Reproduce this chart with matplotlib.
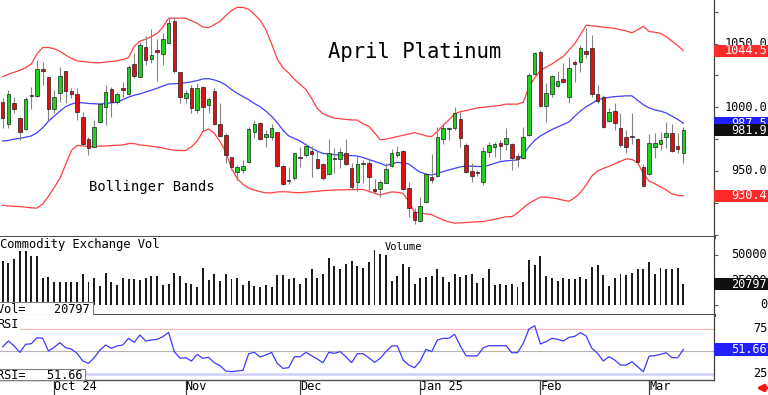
import matplotlib
matplotlib.use("Agg")
import matplotlib.pyplot as plt
from matplotlib.patches import Rectangle

plt.rcParams['font.family'] = ['DejaVu Sans Mono']

# ---- data (trading-day index 0..119, Sep 18 2024 .. Mar 11 2025) ----
opens = [1004.4, 986.9, 1003.1, 991.3, 983.0, 1009.0, 1009.1, 1030.1, 1023.6, 998.4,
         1011.5, 1028.5, 1012.8, 1010.2, 992.6, 974.8, 969.1, 988.7, 1000.2, 1014.1,
         1003.9, 1014.9, 1010.5, 1034.0, 1024.1, 1047.6, 1037.9, 1045.0, 1041.9, 1050.8,
         1068.1, 1028.0, 1007.0, 1015.2, 997.9, 1015.7, 1001.5, 1012.8, 986.9, 978.2,
         960.7, 949.4, 950.7, 957.3, 980.9, 987.9, 976.4, 976.9, 980.3, 954.1,
         942.2, 944.7, 961.2, 962.5, 966.0, 959.6, 955.2, 947.6, 959.1, 959.6,
         964.1, 952.6, 941.6, 955.5, 956.2, 935.5, 935.5, 940.8, 954.1, 962.5,
         965.7, 936.9, 917.5, 911.0, 925.4, 945.0, 946.0, 974.8, 983.2, 983.5,
         991.0, 970.1, 950.0, 949.0, 941.6, 965.1, 969.1, 971.7, 971.0, 970.9,
         961.7, 959.9, 978.2, 1026.2, 1043.2, 1001.3, 1010.5, 1017.0, 1022.2, 1007.8,
         1034.8, 1035.3, 1044.2, 1046.9, 1010.2, 1008.4, 989.5, 997.1, 984.0, 977.0,
         977.7, 975.1, 952.8, 947.3, 969.1, 971.2, 976.4, 979.5, 969.6, 964.4]
highs = [1007.1, 1013.6, 1008.4, 992.7, 1008.4, 1016.2, 1037.2, 1035.9, 1024.1, 1013.6,
         1031.9, 1028.8, 1014.9, 1014.9, 996.6, 976.9, 990.0, 1004.4, 1017.5, 1015.7,
         1012.3, 1020.1, 1033.2, 1042.4, 1051.6, 1056.0, 1061.3, 1053.4, 1058.1, 1070.7,
         1071.2, 1028.0, 1013.6, 1017.5, 1018.8, 1016.7, 1008.4, 1014.9, 1003.1, 979.5,
         961.2, 954.7, 958.6, 984.8, 990.0, 988.7, 982.2, 986.9, 980.9, 954.7,
         953.4, 964.4, 969.1, 971.7, 969.6, 966.5, 956.0, 974.8, 967.8, 968.3,
         974.8, 956.0, 962.5, 958.6, 959.1, 943.4, 942.9, 956.0, 967.0, 969.6,
         966.5, 941.6, 920.6, 929.8, 948.1, 963.3, 984.8, 986.9, 984.8, 1000.5,
         996.0, 971.7, 956.0, 951.0, 969.1, 973.0, 973.0, 974.3, 983.5, 971.7,
         963.8, 984.8, 1026.7, 1043.7, 1045.0, 1018.8, 1025.4, 1028.8, 1034.5, 1039.3,
         1037.0, 1048.9, 1062.0, 1056.8, 1017.5, 1009.7, 999.2, 1003.1, 995.3, 982.2,
         995.3, 975.6, 955.5, 979.0, 979.5, 980.9, 988.2, 986.6, 979.5, 984.8]
lows = [983.5, 983.5, 995.3, 974.3, 982.2, 998.4, 1008.4, 1017.5, 990.0, 995.3,
        1004.4, 1003.1, 1007.0, 990.0, 970.4, 962.5, 968.6, 987.9, 986.1, 992.6,
        1002.6, 1008.4, 1009.7, 1022.8, 1023.6, 1033.2, 1034.5, 1020.7, 1033.2, 1049.7,
        1027.2, 1003.1, 1003.1, 995.3, 995.3, 981.6, 995.3, 986.1, 977.0, 956.0,
        950.7, 942.9, 948.1, 956.0, 975.6, 974.3, 969.1, 974.3, 953.4, 939.0,
        939.5, 942.9, 953.4, 961.2, 945.5, 951.3, 942.9, 946.8, 948.7, 952.1,
        954.7, 935.0, 934.5, 940.3, 933.7, 932.9, 929.8, 940.3, 953.4, 961.2,
        935.0, 914.1, 908.3, 910.2, 924.6, 940.8, 945.5, 971.2, 974.3, 982.2,
        969.1, 948.1, 941.6, 946.0, 939.0, 961.2, 961.2, 958.6, 966.5, 950.7,
        953.4, 959.1, 977.5, 1025.4, 1000.5, 988.7, 1007.8, 1015.7, 1018.8, 1003.1,
        1020.0, 1028.0, 1038.5, 1008.4, 1003.7, 983.5, 988.7, 982.2, 969.1, 963.8,
        971.2, 956.0, 937.1, 946.8, 959.9, 966.5, 967.8, 965.2, 963.8, 956.5]
closes = [991.3, 1010.2, 998.4, 980.9, 1006.3, 1008.8, 1029.8, 1028.5, 998.4, 1008.4,
          1024.6, 1013.1, 1010.2, 996.6, 971.2, 967.8, 984.3, 1002.6, 1012.0, 1004.4,
          1010.5, 1013.6, 1031.9, 1024.6, 1048.9, 1037.2, 1041.1, 1043.7, 1053.4, 1066.5,
          1028.5, 1008.4, 1011.0, 999.2, 1014.9, 1000.5, 1006.8, 986.9, 977.5, 962.5,
          953.4, 952.8, 954.1, 982.7, 986.9, 974.8, 979.0, 983.5, 954.1, 939.7,
          941.8, 963.8, 960.2, 969.9, 963.3, 952.1, 944.2, 964.4, 960.2, 964.9,
          955.2, 937.6, 955.5, 956.5, 945.5, 934.5, 941.6, 951.5, 964.4, 965.1,
          935.8, 920.6, 911.5, 922.7, 947.6, 942.9, 976.4, 983.5, 984.0, 995.3,
          975.6, 949.4, 946.0, 948.6, 965.7, 970.4, 971.2, 969.9, 976.2, 960.4,
          959.1, 977.0, 1025.4, 1042.4, 1001.3, 1011.0, 1024.6, 1020.9, 1019.6, 1030.6,
          1034.3, 1046.8, 1041.6, 1010.2, 1005.0, 984.8, 996.6, 987.9, 970.4, 969.1,
          976.4, 957.3, 938.2, 971.7, 971.7, 974.3, 979.5, 966.0, 967.0, 981.9]

bb_upper = [1024, 1026, 1027.5, 1029, 1031, 1034, 1042, 1047, 1047, 1046,
            1044, 1041, 1038.5, 1036.5, 1036, 1035.5, 1035, 1035, 1035.5, 1036,
            1036.5, 1037.5, 1039, 1048, 1052, 1053.5, 1055.5, 1058, 1063, 1070,
            1070, 1070, 1070, 1068, 1066, 1063, 1062.5, 1065, 1067.5, 1072,
            1076, 1078.5, 1078.5, 1077, 1073, 1068.5, 1061, 1050, 1038, 1031,
            1027, 1022, 1018, 1014, 1007, 999, 995, 993, 991.5, 991,
            990.5, 990, 990, 987, 985, 980, 974.5, 975, 976, 977,
            978, 979, 980, 979, 977.5, 977, 981, 986, 990, 995,
            996.5, 997.5, 998.5, 999.5, 1000, 1000.5, 1001, 1001.5, 1002.5, 1002.5,
            1002.5, 1004, 1016, 1023, 1029, 1031.5, 1034, 1037, 1040, 1045,
            1050, 1057, 1064.5, 1064, 1063.5, 1063, 1062.5, 1062, 1061, 1060,
            1058.5, 1061, 1063.5, 1059.5, 1059, 1058, 1055.5, 1052, 1048.5, 1044.5]
bb_mid = [973.5, 974, 975, 975.6, 976.5, 977.5, 980, 984, 989, 993,
          997, 1000.5, 1002.5, 1003.7, 1003.5, 1003, 1002.8, 1002.6, 1003, 1003.5,
          1004, 1006, 1008, 1009.5, 1010.5, 1012, 1013.5, 1015, 1016.7, 1018.3,
          1018.5, 1018.8, 1019.3, 1020, 1021, 1022.3, 1022.5, 1021.5, 1020, 1017.5,
          1014, 1011, 1008.5, 1006, 1003, 1000.5, 997, 993, 988, 982,
          977.5, 975.5, 973.5, 970.5, 968, 965.5, 963.8, 963.2, 962.8, 962.4,
          962.2, 962, 961.7, 960.5, 959, 957.5, 956, 954.2, 955.5, 956.8,
          956.2, 955.5, 952, 949, 947.5, 946.8, 948, 949.5, 950.8, 952,
          953.2, 954, 953.7, 953.5, 953.4, 954.5, 956, 957.3, 958, 958.3,
          958.6, 963, 969, 974, 977.5, 980, 982.5, 984.5, 986.5, 988.5,
          993, 997, 1000.5, 1003, 1006, 1007, 1007.8, 1008.4, 1008.7, 1009,
          1009, 1005.5, 1002, 999.5, 998, 997, 995.5, 993, 990.5, 987.5]
bb_lower = [923, 922.5, 922.2, 922, 921.5, 921, 920.8, 924, 930, 937,
            944, 955, 966, 970, 969.7, 969.2, 969.3, 969.5, 969.6, 970,
            970.2, 970.4, 971.5, 971.5, 970.4, 970, 969.4, 968.8, 968, 967,
            966.3, 966, 966, 969, 973.5, 981, 983, 979.5, 973, 965,
            952, 944, 939.5, 936.5, 935, 933.7, 932.8, 932.8, 933.5, 933.7,
            933.5, 933, 932.9, 933.3, 933.7, 934, 934.5, 934.8, 935, 935.1,
            935.2, 935.3, 935.4, 935.5, 934, 932.5, 931.1, 932.5, 933.5, 933.2,
            932.4, 926, 917.5, 917, 916.2, 915.6, 913.5, 911.5, 910, 909,
            909.2, 909.5, 909.8, 910, 910.2, 911.2, 912, 913, 914, 914.1,
            917, 921, 924.6, 927, 929.5, 929.5, 928.8, 928, 927, 926.2,
            929, 933, 939, 946, 950, 952, 953.6, 955.5, 957.5, 959.5,
            959, 956.5, 948, 942, 940, 937.5, 935, 932, 930.8, 930.4]

volume = [44000, 41700, 46000, 54300, 54300, 49000, 49000, 26700, 28300, 23300,
          22700, 22700, 22700, 22700, 30700, 22700, 26700, 19000, 32300, 23300,
          20000, 26700, 25700, 25700, 25000, 26700, 28700, 28700, 20000, 21000,
          32300, 29000, 21700, 21000, 18300, 37300, 25000, 30700, 24300, 30700,
          26000, 26700, 20000, 24300, 19000, 17700, 20000, 17700, 30000, 30000,
          25700, 27300, 21000, 26700, 35700, 26700, 31000, 46700, 39300, 35700,
          40700, 44500, 39000, 37300, 42700, 54700, 50700, 50000, 24300, 29000,
          41000, 38300, 20700, 26700, 27700, 28700, 35700, 28300, 22700, 30700,
          28300, 30000, 30700, 22300, 27300, 35700, 20000, 20700, 20000, 20700,
          17700, 23300, 45000, 40000, 49000, 29000, 26700, 24300, 26700, 25700,
          25700, 27700, 26000, 37700, 40000, 30000, 19000, 27300, 30700, 30000,
          31700, 35700, 36000, 43300, 31000, 37300, 35700, 36000, 37300, 20797]

rsi = [54.8, 61.1, 55.6, 48.5, 57.4, 58.1, 64.8, 64.1, 50.0, 54.1,
       59.3, 53.7, 52.2, 47.4, 38.9, 36.3, 42.6, 51.1, 56.7, 53.0,
       55.6, 56.7, 64.1, 59.6, 67.8, 61.1, 62.2, 63.0, 65.9, 70.7,
       49.3, 41.9, 42.6, 38.9, 46.3, 41.9, 43.0, 37.0, 33.7, 27.8,
       27.0, 27.8, 28.5, 47.0, 48.5, 43.3, 45.6, 48.5, 36.3, 30.7,
       31.5, 43.7, 43.7, 48.5, 44.8, 41.1, 37.0, 48.5, 47.4, 49.3,
       43.7, 37.0, 47.0, 47.0, 42.6, 37.4, 41.9, 49.3, 55.6, 55.6,
       40.0, 34.4, 31.5, 38.9, 51.9, 49.3, 62.2, 64.1, 64.1, 68.5,
       55.6, 44.8, 44.4, 44.8, 53.7, 55.9, 55.9, 55.9, 55.9, 48.1,
       48.1, 58.5, 74.4, 78.1, 57.8, 60.4, 64.1, 63.0, 61.1, 65.2,
       66.3, 70.4, 66.7, 53.0, 47.4, 38.9, 43.7, 40.0, 34.4, 34.4,
       38.1, 32.6, 27.0, 44.4, 44.8, 46.3, 48.1, 42.6, 42.6, 51.66]

month_idx = [9, 32, 52, 73, 94, 113]
month_labels = ['Oct 24', 'Nov', 'Dec', 'Jan 25', 'Feb', 'Mar']

price_ticks = [900, 925, 950, 975, 1000, 1025, 1050, 1075]
price_labels = [950, 1000, 1050]
vol_labels = [50000, 25000, 0]
rsi_labels = [75, 25]

GREEN = '#1ed21e'
RED = '#e01010'
BAND_RED = '#ff4040'
BAND_BLUE = '#4040ff'

W, H = 768, 395
fig = plt.figure(figsize=(W / 100, H / 100), dpi=100)


def rect(top, bottom, right=714):
    return [0, 1 - bottom / H, right / W, (bottom - top) / H]


ax = fig.add_axes(rect(0, 237))
axv = fig.add_axes(rect(237, 315), sharex=ax)
axr = fig.add_axes(rect(315, 380), sharex=ax)

x = list(range(len(closes)))

# ---- price panel ----
ax.vlines(x, lows, highs, color='#858585', lw=0.8, zorder=2)
body_bottom = [min(o, c) for o, c in zip(opens, closes)]
body_height = [max(abs(c - o), 0.9) for o, c in zip(opens, closes)]
colors = [GREEN if c > o else RED for o, c in zip(opens, closes)]
ax.bar(x, body_height, bottom=body_bottom, width=0.62, color=colors,
       edgecolor='#202020', linewidth=0.5, zorder=3)
ax.plot(x, bb_upper, color=BAND_RED, lw=0.9, zorder=1)
ax.plot(x, bb_lower, color=BAND_RED, lw=0.9, zorder=1)
ax.plot(x, bb_mid, color=BAND_BLUE, lw=0.9, zorder=1)
ax.set_ylim(898.1, 1084.3)
ax.set_xlim(-0.47, 124.35)

ax.text(328 / 714, 1 - 58 / 237, 'April Platinum', transform=ax.transAxes,
        fontsize=14.8, va='baseline', ha='left')
ax.text(89 / 714, 1 - 190.5 / 237, 'Bollinger Bands', transform=ax.transAxes,
        fontsize=10, va='baseline', ha='left')

# ---- volume panel ----
axv.bar(x, volume, width=0.34, color='#1c1c1c', zorder=2)
axv.set_ylim(-10000, 68000)
axv.text(0.0, (315 - 248) / 78, 'Commodity Exchange Vol', transform=axv.transAxes,
         fontsize=8.7, va='baseline', ha='left')
axv.text(403 / 714, (315 - 250) / 78, 'Volume', transform=axv.transAxes,
         fontsize=7.5, va='baseline', ha='center')
axv.add_patch(Rectangle((-0.01, 0), 93 / 714 + 0.01, 13.5 / 78, transform=axv.transAxes,
                        facecolor='white', edgecolor='#808080', lw=0.8, zorder=5, clip_on=False))
axv.text(-3 / 714, 2 / 78, 'Vol=    %d' % volume[-1], transform=axv.transAxes,
         fontsize=8.6, va='baseline', ha='left', zorder=6)

# ---- RSI panel ----
axr.axhline(75, color='#ffb4b4', lw=0.8, zorder=1)
axr.axhline(50, color='#b4b4b4', lw=0.8, zorder=1)
axr.axhline(25, color='#cfcfff', lw=1.8, zorder=1)
axr.plot(x, rsi, color='#3a3aff', lw=0.9, zorder=2)
axr.set_ylim(17.8, 90)
axr.text(-3 / 714, (380 - 327.5) / 65, 'RSI', transform=axr.transAxes, fontsize=8.6,
         va='baseline', ha='left', zorder=6,
         bbox=dict(facecolor='white', edgecolor='none', pad=1.5))
axr.add_patch(Rectangle((-0.01, 0), 85 / 714 + 0.01, 11 / 65, transform=axr.transAxes,
                        facecolor='white', edgecolor='#808080', lw=0.8, zorder=5, clip_on=False))
axr.text(-3 / 714, 1.2 / 65, 'RSI=   %.2f' % rsi[-1], transform=axr.transAxes,
         fontsize=8.6, va='baseline', ha='left', zorder=6)

# ---- axes styling ----
for a in (ax, axv, axr):
    for s in ('left', 'top'):
        a.spines[s].set_visible(False)
    a.spines['right'].set_color('#404040')
    a.spines['right'].set_linewidth(0.9)
    a.yaxis.tick_right()
    a.tick_params(axis='y', direction='out', length=3, color='#606060', labelright=False)
ax.spines['bottom'].set_linewidth(2.2)
ax.spines['bottom'].set_color('#505050')
axv.spines['bottom'].set_linewidth(2.2)
axv.spines['bottom'].set_color('#505050')
axr.spines['bottom'].set_linewidth(1.0)
axr.spines['bottom'].set_color('#505050')

ax.set_yticks(price_ticks)
axv.set_yticks(vol_labels)
axr.set_yticks([])

axr.set_xticks(month_idx)
axr.set_xticklabels(month_labels, fontsize=8.6)
for lab in axr.get_xticklabels():
    lab.set_horizontalalignment('left')
axr.tick_params(axis='x', direction='out', length=11, width=0.9, color='#404040', pad=-10.8)
ax.tick_params(axis='x', bottom=False, labelbottom=False)
axv.tick_params(axis='x', bottom=False, labelbottom=False)

# ---- right side labels and value boxes ----
LX = 767 / 714
BW = 54 / 714
for v in price_labels:
    ax.text(LX, v, '%.1f' % v, transform=ax.get_yaxis_transform(), ha='right', va='center',
            fontsize=8.6, clip_on=False)
for v in vol_labels:
    axv.text(LX, v, '%d' % v, transform=axv.get_yaxis_transform(), ha='right', va='center',
             fontsize=8.6, clip_on=False)
for v in rsi_labels:
    axr.text(LX, v, '%d' % v, transform=axr.get_yaxis_transform(), ha='right', va='center',
             fontsize=8.6, clip_on=False)


def value_box(a, v, h, color, text, z):
    a.add_patch(Rectangle((1.0, v - h / 2), BW, h, transform=a.get_yaxis_transform(),
                          facecolor=color, edgecolor='none', clip_on=False, zorder=z))
    a.text(LX, v, text, transform=a.get_yaxis_transform(), ha='right', va='center',
           fontsize=8.6, color='white', clip_on=False, zorder=z + 0.5)


value_box(ax, bb_upper[-1], 9.6, '#ff2a2a', '%.1f' % bb_upper[-1], 10)
value_box(ax, bb_mid[-1], 9.6, '#2020ff', '%.1f' % bb_mid[-1], 10)
value_box(ax, closes[-1], 9.6, '#101010', '%.1f' % closes[-1], 11)
value_box(ax, bb_lower[-1], 9.6, '#ff2a2a', '%.1f' % bb_lower[-1], 10)
value_box(axv, volume[-1], 12000, '#101010', '%d' % volume[-1], 10)
value_box(axr, rsi[-1], 13.5, '#2020ff', '%.2f' % rsi[-1], 10)

ax.annotate('', xy=(756, 395 - 388), xytext=(766.5, 395 - 388), xycoords='figure pixels',
            textcoords='figure pixels',
            arrowprops=dict(arrowstyle='-|>', color='#ff1010', lw=2.5, mutation_scale=9,
                            shrinkA=0, shrinkB=0))

fig.savefig('out.png', dpi=100)
